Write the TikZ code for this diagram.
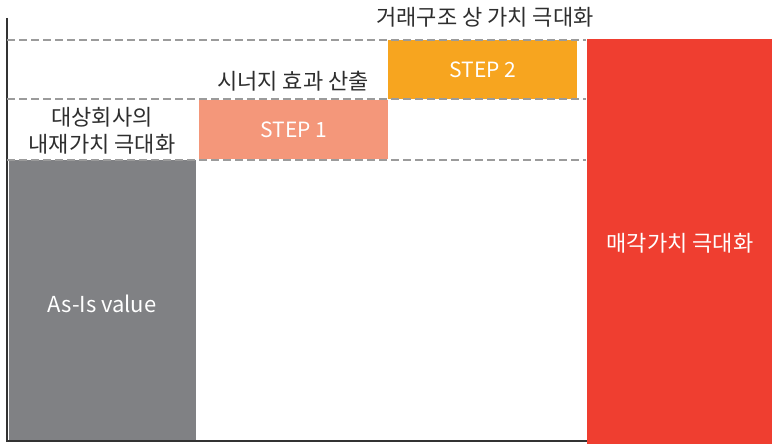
\documentclass[tikz,border=0pt]{standalone}
\usepackage{fontspec}
\setmainfont{Noto Sans CJK KR}
\begin{document}
\begin{tikzpicture}[x=1pt,y=-1pt,
  bar/.style={draw=none,inner sep=0pt,anchor=north west},
  lbl/.style={text=txtc,font=\fontsize{22}{26}\selectfont,inner sep=0pt,align=center},
  wlbl/.style={text=white,font=\fontsize{21}{25}\selectfont,inner sep=0pt},
  guide/.style={draw=guidec,line width=2pt,dash pattern=on 8pt off 4pt},
  axis/.style={draw=axisc,line width=2pt}]
\definecolor{txtc}{HTML}{2E2E2E}
\definecolor{guidec}{HTML}{9B9B9B}
\definecolor{axisc}{HTML}{333333}
\definecolor{grayc}{HTML}{808184}
\definecolor{step1c}{HTML}{F4977A}
\definecolor{step2c}{HTML}{F7A51F}
\definecolor{redc}{HTML}{EF3E30}
\useasboundingbox (0,0) rectangle (772,444);
% bars
\node[bar,fill=grayc,minimum width=187pt,minimum height=281pt] (asis) at (9,160) {};
\node[bar,fill=step1c,minimum width=189pt,minimum height=59pt] (s1) at (199,100) {};
\node[bar,fill=step2c,minimum width=189pt,minimum height=59pt] (s2) at (388,40) {};
\node[bar,fill=redc,minimum width=185pt,minimum height=405pt] (sale) at (587,39) {};
% axes
\coordinate (otop) at (7,18);
\coordinate (oorg) at (7,441);
\coordinate (oend) at (587,441);
\draw[axis] (otop) -- (oorg) -- (oend);
% guides
\coordinate (g1a) at (7,40); \coordinate (g1b) at (586,40);
\coordinate (g2a) at (7,99); \coordinate (g2b) at (586,99);
\coordinate (g3a) at (7,160); \coordinate (g3b) at (586,160);
\draw[guide] (g1a) -- (g1b);
\draw[guide] (g2a) -- (g2b);
\draw[guide] (g3a) -- (g3b);
% labels
\node[wlbl] (t1) at (s1.center) {STEP 1};
\node[wlbl] (t2) at (s2.center) {STEP 2};
\node[wlbl,font=\fontsize{22}{26}\selectfont] (t3) at (102,304) {As-Is value};
\node[wlbl,font=\fontsize{22}{26}\selectfont] (t4) at (680,243) {매각가치 극대화};
\node[lbl] (l1) at (485,17) {거래구조 상 가치 극대화};
\node[lbl] (l2) at (293,81) {시너지 효과 산출};
\node[lbl,font=\fontsize{22}{27}\selectfont] (l3) at (102,131) {대상회사의\\내재가치 극대화};
\end{tikzpicture}
\end{document}
